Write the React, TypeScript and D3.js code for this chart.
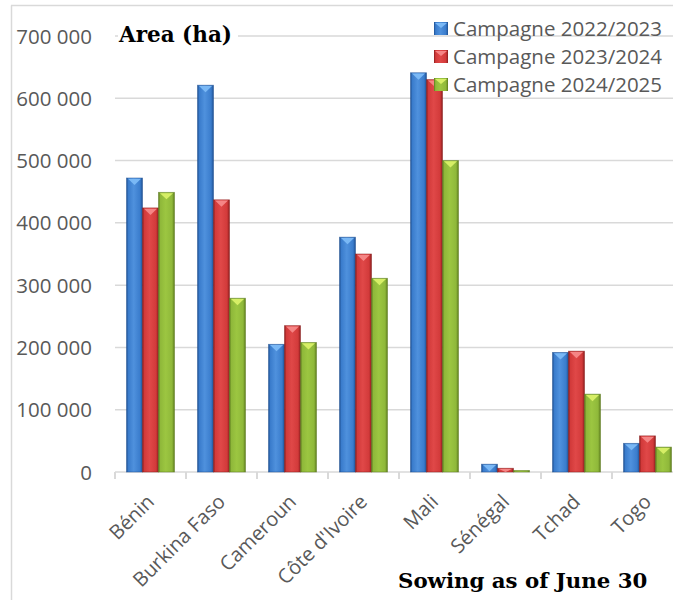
import React from "react";
import * as d3 from "d3";

const categories = ["Bénin", "Burkina Faso", "Cameroun", "Côte d'Ivoire", "Mali", "Sénégal", "Tchad", "Togo"];
const seriesNames = ["Campagne 2022/2023", "Campagne 2023/2024", "Campagne 2024/2025"];
const s2022 = [472000, 621000, 205000, 377000, 641000, 12500, 192000, 46000];
const s2023 = [424000, 437000, 235000, 350000, 630000, 6000, 194000, 58000];
const s2024 = [449000, 279000, 208000, 311000, 500000, 2500, 125000, 40000];
const yTicks = [0, 100000, 200000, 300000, 400000, 500000, 600000, 700000];

const palettes = [
  { dark: "#1d4f91", mid: "#3a7ccc", light: "#4f91dd", tri: "#7ab8f5" },
  { dark: "#8a1c1c", mid: "#d23a3a", light: "#e04848", tri: "#f58585" },
  { dark: "#5b7a1c", mid: "#8fb83a", light: "#9cc641", tri: "#d6ee66" },
];

export default function App() {
  const W = 673, H = 600;
  const y = d3.scaleLinear().domain([0, 700000]).range([472, 36]);
  const x = d3.scaleBand<string>().domain(categories).range([115, 115 + 8 * 71]).padding(0);
  const xs = d3.scaleBand<number>().domain([0, 1, 2]).range([0, x.bandwidth()]).paddingInner(0).paddingOuter(0.72);
  const series = [s2022, s2023, s2024];
  const fmt = (v: number) => d3.format(",")(v).replace(/,/g, " ");
  const bw = xs.bandwidth();

  return (
    <svg width={W} height={H} style={{ position: "absolute", left: 0, top: 0, background: "#fff" }}
      fontFamily="'Open Sans', sans-serif">
      <defs>
        {palettes.map((p, i) => (
          <linearGradient key={i} id={`g${i}`} x1="0" x2="1" y1="0" y2="0">
            <stop offset="0" stopColor={p.dark} />
            <stop offset="0.12" stopColor={p.mid} />
            <stop offset="0.45" stopColor={p.light} />
            <stop offset="0.85" stopColor={p.mid} />
            <stop offset="1" stopColor={p.dark} />
          </linearGradient>
        ))}
      </defs>
      {/* frame */}
      <line x1={11.5} x2={11.5} y1={5.5} y2={H} stroke="#d9d9d9" strokeWidth={1.5} />
      <line x1={11} x2={W} y1={5.5} y2={5.5} stroke="#d9d9d9" strokeWidth={1.5} />
      {/* gridlines */}
      {yTicks.map((t) => (
        <line key={t} x1={115} x2={W} y1={y(t)} y2={y(t)} stroke="#d9d9d9" strokeWidth={1.5} />
      ))}
      {yTicks.map((t) => (
        <text key={"l" + t} x={92} y={y(t) + 7.5} textAnchor="end" fontSize={20.5} fill="#595959">{fmt(t)}</text>
      ))}
      {/* category ticks */}
      {categories.concat(["_end"]).map((c, i) => {
        const xx = 115 + i * x.step();
        return <line key={"t" + i} x1={xx} x2={xx} y1={472} y2={479} stroke="#d9d9d9" strokeWidth={2} />;
      })}
      {/* bars */}
      {categories.map((c, ci) => (
        <g key={c}>
          {series.map((s, si) => {
            const x0 = (x(c) as number) + (xs(si) as number);
            const y0 = y(s[ci]);
            const h = 472 - y0;
            const p = palettes[si];
            const triH = Math.min(7, h);
            return (
              <g key={si}>
                <rect x={x0} y={y0} width={bw} height={h} fill={`url(#g${si})`} />
                <rect x={x0} y={y0} width={bw} height={h} fill="none" stroke={p.dark} strokeOpacity={0.6} strokeWidth={0.8} />
                {h > 2 && (
                  <polygon points={`${x0 + 1.5},${y0 + 0.8} ${x0 + bw - 1.5},${y0 + 0.8} ${x0 + bw / 2},${y0 + triH}`} fill={p.tri} />
                )}
              </g>
            );
          })}
        </g>
      ))}
      {/* x labels */}
      {categories.map((c) => {
        const cx = (x(c) as number) + x.bandwidth() / 2;
        return (
          <text key={"x" + c} transform={`translate(${cx + 5},${503}) rotate(-45)`} textAnchor="end" fontSize={20} fill="#595959">{c}</text>
        );
      })}
      {/* title */}
      <rect x={118} y={16} width={120} height={32} fill="#fff" />
      <text x={119} y={42} fontFamily="'DejaVu Serif', serif" fontWeight="bold" fontSize={21.5} fill="#000">Area (ha)</text>
      {/* legend */}
      {seriesNames.map((n, i) => {
        const ry = 28 + i * 28;
        const p = palettes[i];
        return (
          <g key={n}>
            <rect x={434} y={ry - 6} width={14} height={13} fill={`url(#g${i})`} />
            <polygon points={`${435},${ry - 5} ${447},${ry - 5} ${441},${ry}`} fill={p.tri} />
            <text x={453} y={ry + 7.5} fontSize={20.5} fill="#595959">{n}</text>
          </g>
        );
      })}
      <text x={398} y={588} fontFamily="'DejaVu Serif', serif" fontWeight="bold" fontSize={21.3} fill="#000">Sowing as of June 30</text>
    </svg>
  );
}
